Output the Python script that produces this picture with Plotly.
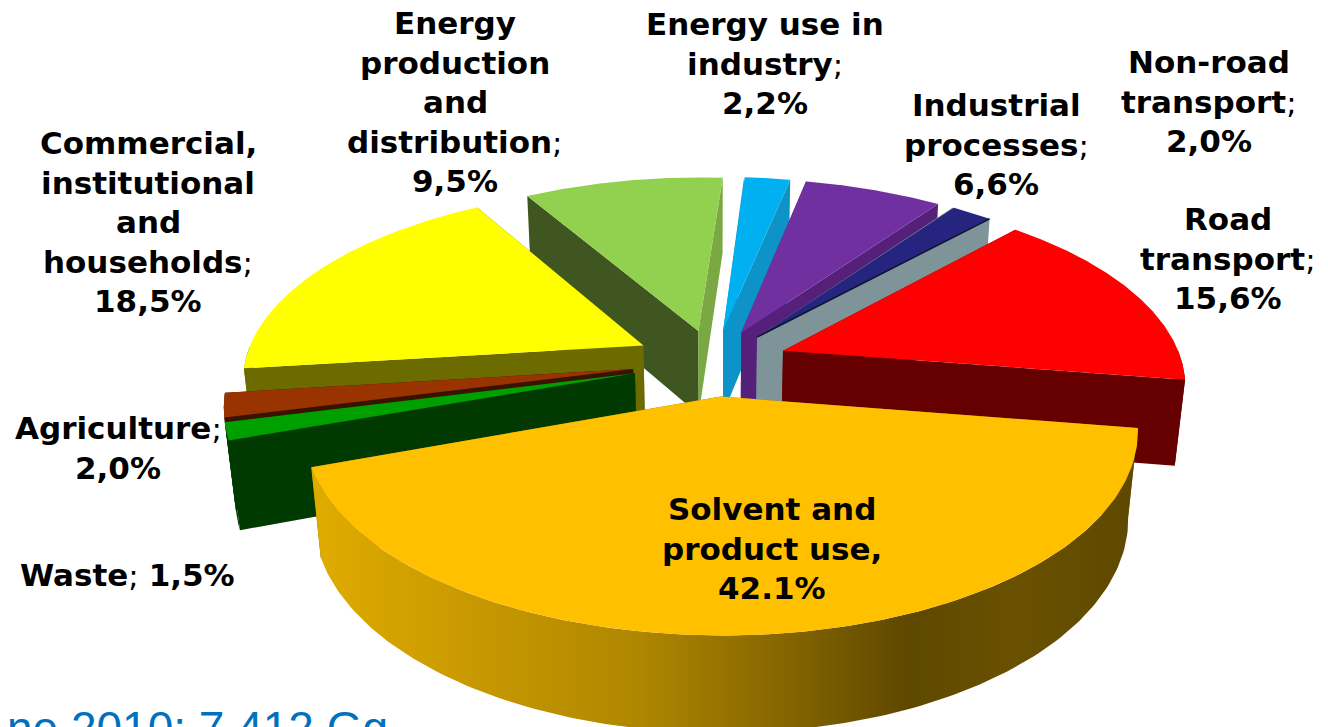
import numpy as np
import plotly.graph_objects as go

# Emission shares per source sector, clockwise from the top of the pie
sectors = ["Energy use in industry", "Industrial processes", "Non-road transport",
           "Road transport", "Solvent and product use", "Waste", "Agriculture",
           "Commercial, institutional and households", "Energy production and distribution"]
shares = [2.2, 6.6, 2.0, 15.6, 42.1, 1.5, 2.0, 18.5, 9.5]

label_text = ["Energy use in<br>industry;", "Industrial<br>processes;", "Non-road<br>transport;",
              "Road<br>transport;", "Solvent and<br>product use,", "Waste;", "Agriculture;",
              "Commercial,<br>institutional<br>and<br>households;", "Energy<br>production<br>and<br>distribution;"]
label_value = ["2,2%", "6,6%", "2,0%", "15,6%", "42.1%", "1,5%", "2,0%", "18,5%", "9,5%"]
caption = "ne 2010: 7.412 Gg"

# Face colours: top, wall on the leading radial edge, wall on the trailing radial edge
top_col = ["#00B0F0", "#7030A0", "#25257F", "#FF0000", "#FFC000", "#009F00", "#993300", "#FFFF00", "#92D050"]
lead_wall = ["#0E93C8", "#55207A", "#7F9498", "#660000", "#8A6A00", "#003A00", "#3A1200", "#6B6B00", "#3F5620"]
trail_wall = ["#0E93C8", "#55207A", "#7F9498", "#660000", "#8A6A00", "#003A00", "#3A1200", "#6B6B00", "#7AA843"]
arc_wall = ["#0E93C8", "#55207A", "#7F9498", "#660000", "#8A6A00", "#003A00", "#3A1200", "#6B6B00", "#7AA843"]

# Painter's order, far slices first
draw_order = [8, 0, 1, 2, 7, 3, 6, 5, 4]

# Camera used to flatten the pie onto the page
CX, CY = 714.0, 362.0
SX, SZ, SH = 399.0, 187.6, 87.0
K_Z, K_H = 0.162, 0.022
ROT = 3.8

# How far each slice is pulled from the centre
explode = [0.175, 0.175, 0.175, 0.185, 0.18, 0.205, 0.205, 0.2, 0.175]

# Label placement: centre x and centre y of the first line of each text block
label_pos = [(765, 24), (996, 105), (1209, 62), (1228, 219), (772, 509),
             (127, 575), (118, 428), (148, 143), (455, 23)]
LINE_GAP = 39.5


def project(wx, wz, h=0.0):
    s = 1.0 / (1.0 + K_Z * wz + K_H * h)
    return CX + SX * wx * s, CY + (-SZ * wz + SH * h) * s


edges = np.cumsum([0.0] + shares) / sum(shares) * 360.0 + ROT
fig = go.Figure()


def face(xs, ys, color=None, gradient=None):
    tr = dict(x=list(xs) + [xs[0]], y=list(ys) + [ys[0]], mode="lines", fill="toself",
              line=dict(width=0), hoverinfo="skip", showlegend=False)
    if gradient:
        tr["fillgradient"] = gradient
    else:
        tr["fillcolor"] = color
    fig.add_trace(go.Scatter(**tr))


solvent_gradient = dict(type="horizontal", start=310, stop=1140, colorscale=[
    [0.00, "#E0AC00"], [0.20, "#C89800"], [0.40, "#AE8600"], [0.60, "#7E6000"],
    [0.72, "#5E4800"], [0.85, "#6A5100"], [1.00, "#5E4800"]])

for i in draw_order:
    a0, a1 = np.radians(edges[i]), np.radians(edges[i + 1])
    mid = (a0 + a1) / 2
    ox, oz = explode[i] * np.sin(mid), explode[i] * np.cos(mid)
    arc = np.linspace(a0, a1, 160)
    wx, wz = ox + np.sin(arc), oz + np.cos(arc)

    # Radial walls below the top face
    for ang, col in ((a0, lead_wall[i]), (a1, trail_wall[i])):
        ex, ez = ox + np.sin(ang), oz + np.cos(ang)
        p = [project(ox, oz), project(ex, ez), project(ex, ez, 1), project(ox, oz, 1)]
        face([q[0] for q in p], [q[1] for q in p], col)

    tx, ty = project(wx, wz)

    # Curved outer wall, only where it faces the viewer
    front = np.cos(arc) < 0
    if front.any():
        bx, by = project(wx[front], wz[front], 1)
        xs = np.concatenate([tx[front], bx[::-1]])
        ys = np.concatenate([ty[front], by[::-1]])
        if i == 4:
            face(xs, ys, gradient=solvent_gradient)
        else:
            face(xs, ys, arc_wall[i])

    # Top face
    ax, ay = project(ox, oz)
    face(np.concatenate([[ax], tx]), np.concatenate([[ay], ty]), top_col[i])

    # Dark seam along the lower edge of the thin non-road slice
    if i == 2:
        fig.add_trace(go.Scatter(x=[ax, tx[-1]], y=[ay, ty[-1]], mode="lines",
                                 line=dict(color="#101030", width=1.5),
                                 hoverinfo="skip", showlegend=False))

FONT = dict(family="DejaVu Sans", size=31, color="#000000")
for i, (px, py) in enumerate(label_pos):
    lines = label_text[i].split("<br>")
    if label_text[i] == "Waste;":
        rows = [f"<b>Waste</b>; <b>{label_value[i]}</b>"]
    else:
        rows = [f"<b>{ln[:-1]}</b>;" if ln.endswith(";") else f"<b>{ln}</b>" for ln in lines]
        rows.append(f"<b>{label_value[i]}</b>")
    for k, row in enumerate(rows):
        fig.add_annotation(x=px, y=py + k * LINE_GAP, xref="x", yref="y", text=row, showarrow=False,
                           xanchor="center", yanchor="middle", align="center", font=FONT)

fig.add_annotation(x=390, y=700, xref="x", yref="y", text=caption, showarrow=False,
                   xanchor="right", yanchor="top", font=dict(family="Liberation Sans", size=46, color="#0070C0"))

fig.update_layout(
    width=1328, height=727, margin=dict(l=0, r=0, t=0, b=0),
    paper_bgcolor="white", plot_bgcolor="white", showlegend=False,
    xaxis=dict(range=[0, 1328], visible=False, fixedrange=True),
    yaxis=dict(range=[727, 0], visible=False, fixedrange=True),
)
fig.write_html("out.html")
